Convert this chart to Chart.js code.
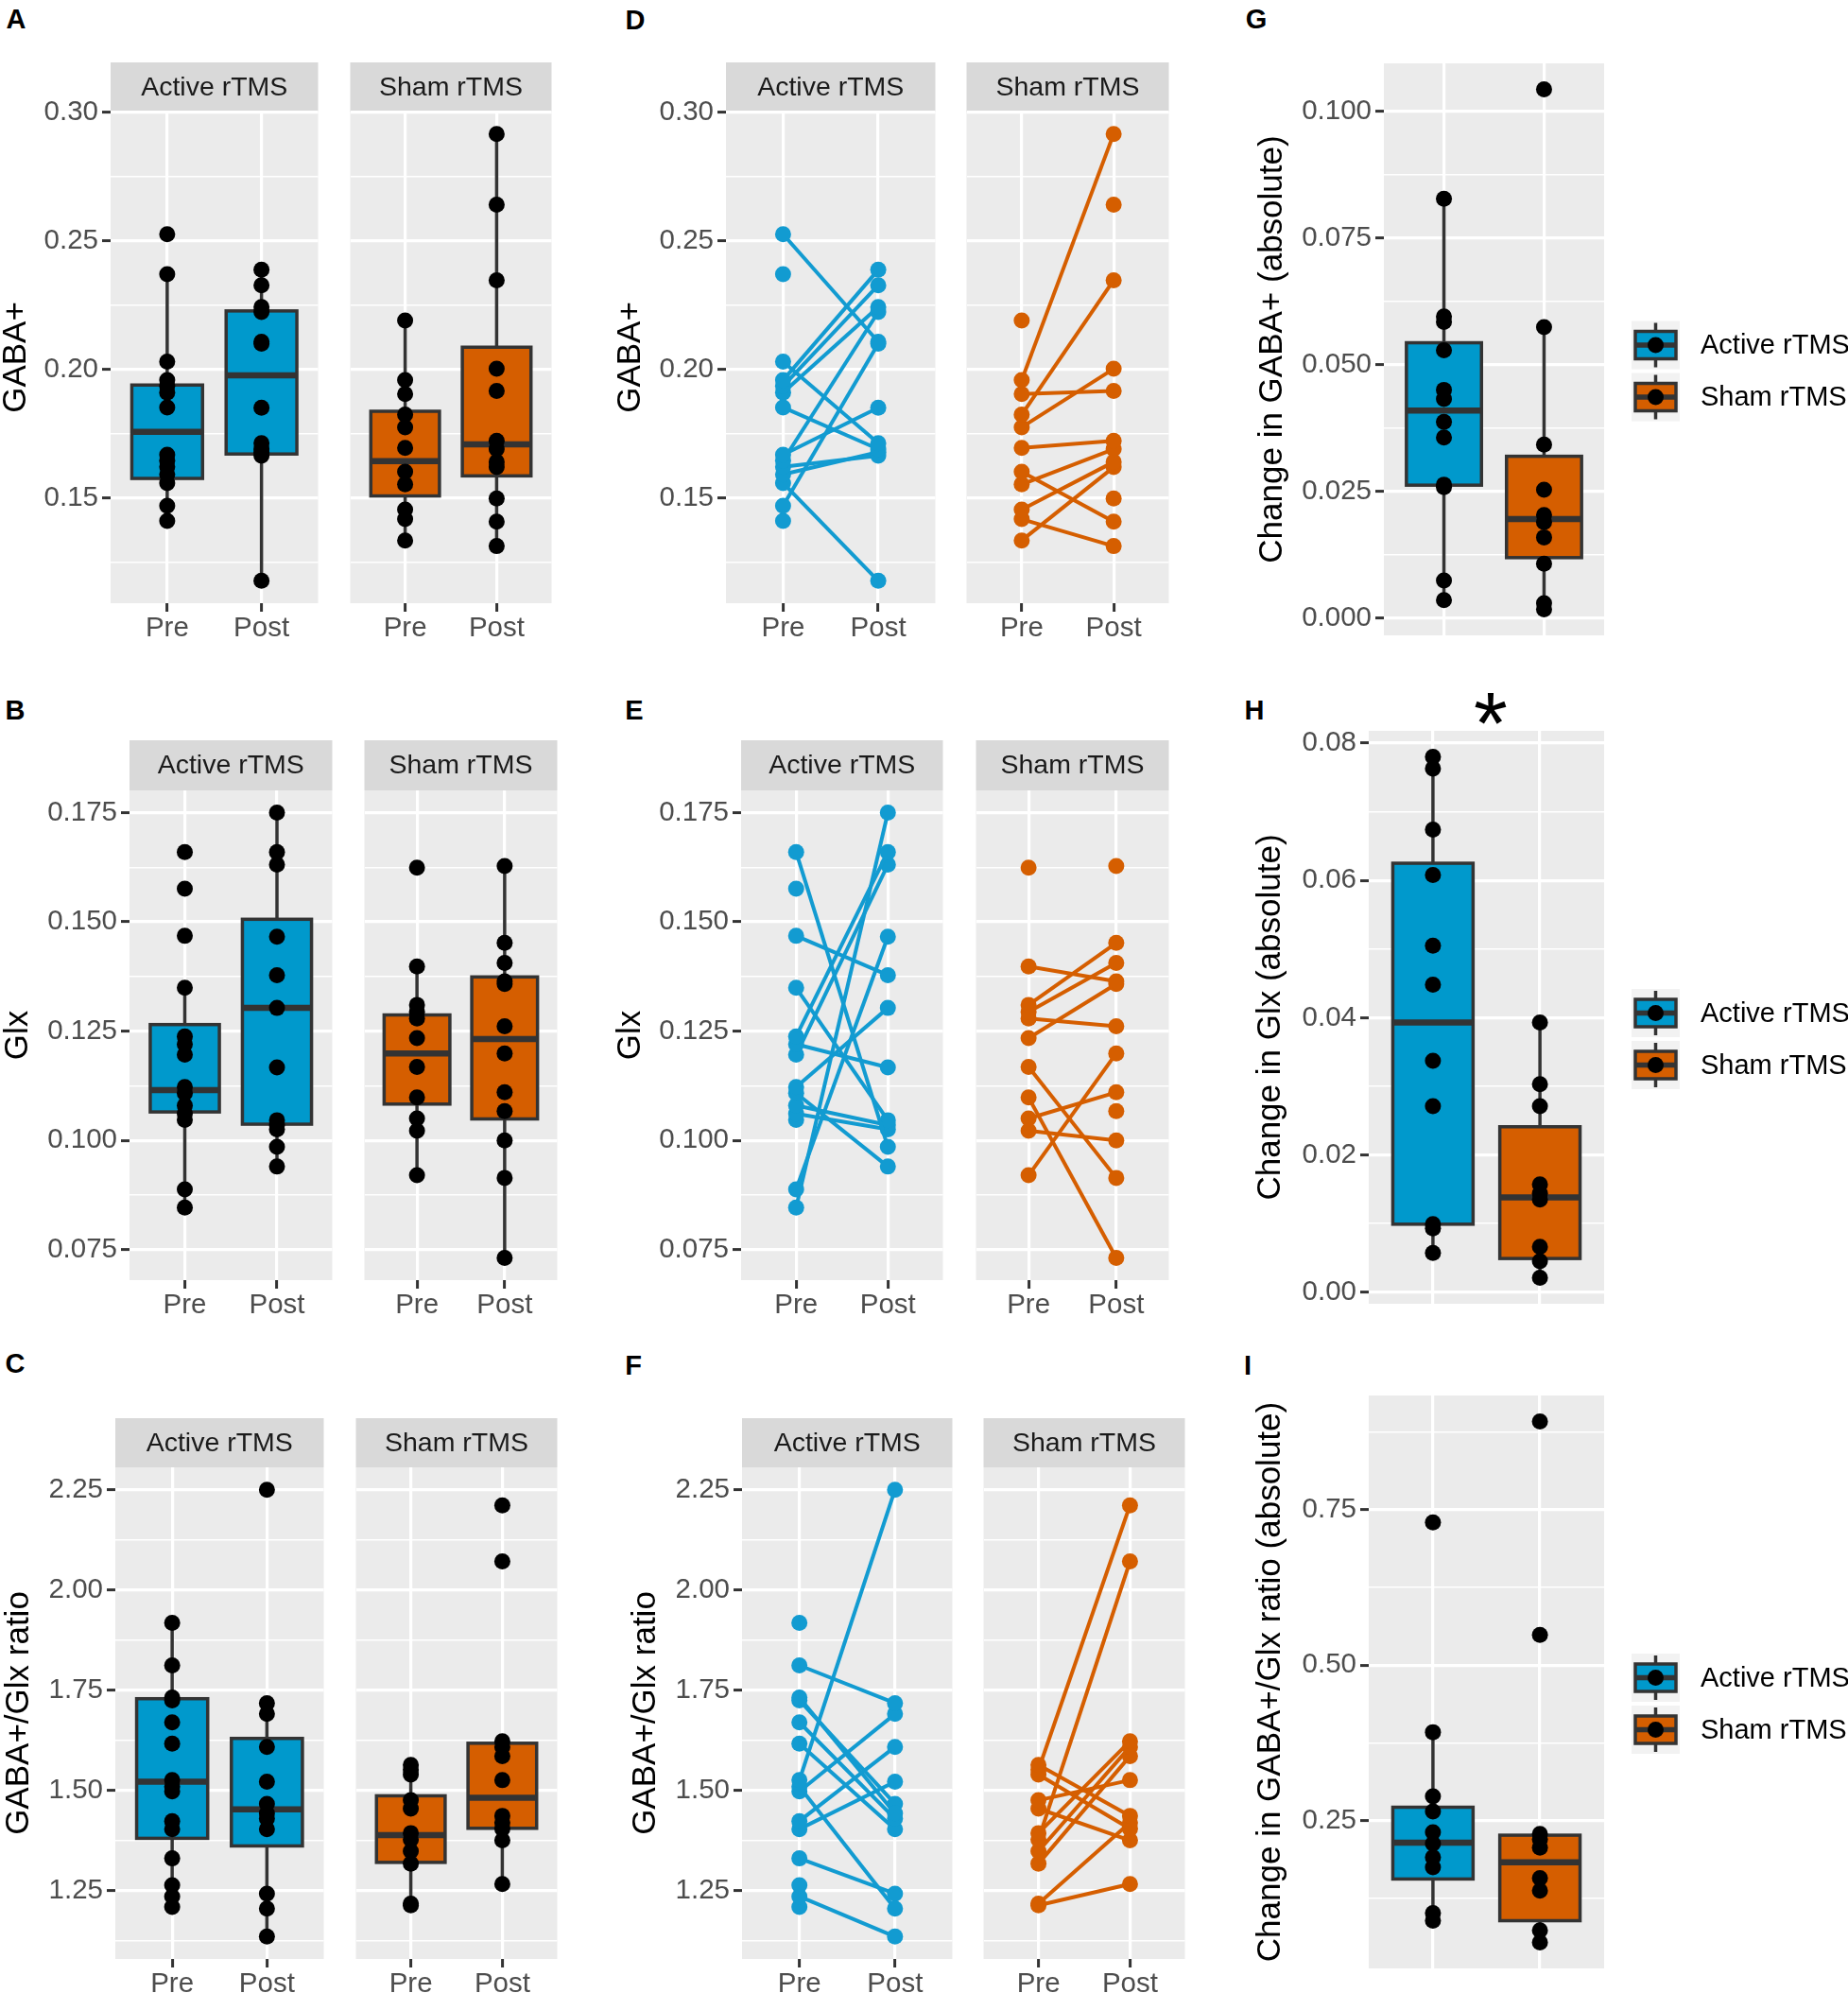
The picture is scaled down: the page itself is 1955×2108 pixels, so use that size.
<!DOCTYPE html>
<html>
<head>
<meta charset="utf-8">
<script src="https://cdn.jsdelivr.net/npm/chart.js@4.4.1/dist/chart.umd.min.js"></script>
<style>
  html, body { margin: 0; padding: 0; background: #fff; width: 1955px; height: 2108px; overflow: hidden; }
  .plot { position: absolute; }
  .tag { position: absolute; font: bold 29px "Liberation Sans", Arial, sans-serif; color: #000; line-height: 1; transform: translate(-50%, -50%); }
  .star { position: absolute; font: 92px "Liberation Sans", Arial, sans-serif; color: #000; line-height: 1; transform: translate(-50%, -50%); }
</style>
</head>
<body>
<div class="tag" style="left:17px;top:20px">A</div>
<div class="tag" style="left:672px;top:21px">D</div>
<div class="tag" style="left:1329px;top:20px">G</div>
<div class="tag" style="left:16px;top:751px">B</div>
<div class="tag" style="left:671px;top:751px">E</div>
<div class="tag" style="left:1327px;top:751px">H</div>
<div class="tag" style="left:16px;top:1442px">C</div>
<div class="tag" style="left:670px;top:1444px">F</div>
<div class="tag" style="left:1320px;top:1444px">I</div>
<div class="star" style="left:1577px;top:765px">*</div>

<script>
const conditions = ['Pre', 'Post'];
const groups = ['Active rTMS', 'Sham rTMS'];

// GABA+ (A, D) - one entry per participant, null = missing
const gabaActivePre  = [0.2525, 0.2370, 0.2030, 0.1958, 0.1935, 0.1910, 0.1852, 0.1668, 0.1645, 0.1621, 0.1592, 0.1558, 0.1470, 0.1411];
const gabaActivePost = [0.2107, null,   0.1713, 0.2387, 0.2327, 0.2242, 0.1690, 0.1851, 0.2223, 0.1664, 0.1678, 0.1178, 0.2100, null];
const gabaShamPre    = [0.2190, 0.1958, 0.1904, 0.1824, 0.1775, 0.1695, 0.1602, 0.1553, 0.1455, 0.1418, 0.1335, null,   null];
const gabaShamPost   = [null,   0.2915, 0.1916, 0.2346, 0.2002, 0.1722, 0.1408, 0.1690, 0.1640, 0.1313, 0.1620, 0.2640, 0.1498];
// box stats: [low whisker, Q1, median, Q3, high whisker]
const gabaActivePreBox  = [0.1410, 0.1576, 0.1757, 0.1939, 0.2369];
const gabaActivePostBox = [0.1178, 0.1671, 0.1977, 0.2227, 0.2387];
const gabaShamPreBox    = [0.1332, 0.1508, 0.1643, 0.1837, 0.2186];
const gabaShamPostBox   = [0.1310, 0.1586, 0.1708, 0.2086, 0.2914];
const gabaTicks = ['0.15', '0.20', '0.25', '0.30'];

// Glx (B, E)
const glxActivePre  = [0.1660, 0.1576, 0.1468, 0.1349, 0.1238, 0.1220, 0.1196, 0.1122, 0.1108, 0.1080, 0.1061, 0.1047, 0.0888, 0.0846];
const glxActivePost = [0.0985, null,   0.1378, 0.1046, 0.1660, 0.1167, 0.1631, 0.1303, 0.0940, 0.1035, 0.1025, null,   0.1466, 0.1750];
const glxShamPre    = [0.1624, 0.1398, 0.1310, 0.1294, 0.1279, 0.1234, 0.1168, 0.1098, 0.1050, 0.1022, 0.0920, null,   null];
const glxShamPost   = [null,   0.1364, 0.1452, 0.1406, 0.1261, 0.1358, 0.0914, 0.0731, 0.1110, 0.1000, 0.1199, 0.1628, 0.1067];
const glxActivePreBox  = [0.0846, 0.1065, 0.1115, 0.1265, 0.1348];
const glxActivePostBox = [0.0938, 0.1037, 0.1303, 0.1506, 0.1750];
const glxShamPreBox    = [0.0919, 0.1083, 0.1199, 0.1287, 0.1400];
const glxShamPostBox   = [0.0731, 0.1049, 0.1232, 0.1374, 0.1628];
const glxTicks = ['0.075', '0.100', '0.125', '0.150', '0.175'];

// GABA+/Glx ratio (C, F)
const ratioActivePre  = [1.918, 1.812, 1.732, 1.725, 1.670, 1.617, 1.526, 1.510, 1.498, 1.424, 1.404, 1.331, 1.264, 1.236, 1.210];
const ratioActivePost = [null,  1.718, 1.443, 1.467, 1.430, 1.404, 2.250, 1.206, 1.691, 1.609, 1.522, 1.243, null,  1.136, null];
const ratioShamPre    = [1.564, 1.552, 1.540, 1.476, 1.455, 1.394, 1.378, 1.349, 1.318, 1.214, 1.218];
const ratioShamPost   = [1.437, 2.211, 1.405, 1.526, 1.376, 1.623, 2.071, 1.609, 1.586, 1.267, 1.420];
const ratioActivePreBox  = [1.209, 1.381, 1.522, 1.729, 1.918];
const ratioActivePostBox = [1.136, 1.362, 1.453, 1.630, 1.720];
const ratioShamPreBox    = [1.214, 1.321, 1.389, 1.487, 1.564];
const ratioShamPostBox   = [1.267, 1.406, 1.482, 1.618, 1.623];
const ratioTicks = ['1.25', '1.50', '1.75', '2.00', '2.25'];

// absolute change (G, H, I)
const gabaChangeActive = [0.0827, 0.0595, 0.0584, 0.0528, 0.0450, 0.0432, 0.0387, 0.0356, 0.0263, 0.0258, 0.0074, 0.0035];
const gabaChangeSham   = [0.1043, 0.0574, 0.0342, 0.0253, 0.0203, 0.0189, 0.0159, 0.0107, 0.0029, 0.0017];
const gabaChangeActiveBox = [0.0035, 0.0262, 0.0409, 0.0543, 0.0827];
const gabaChangeShamBox   = [0.0017, 0.0119, 0.0195, 0.0319, 0.0574];
const gabaChangeTicks = ['0.000', '0.025', '0.050', '0.075', '0.100'];

const glxChangeActive = [0.0780, 0.0763, 0.0674, 0.0608, 0.0505, 0.0448, 0.0337, 0.0271, 0.0099, 0.0093, 0.0057];
const glxChangeSham   = [0.0393, 0.0303, 0.0271, 0.0157, 0.0144, 0.0135, 0.0066, 0.0045, 0.0021];
const glxChangeActiveBox = [0.0057, 0.0099, 0.0393, 0.0625, 0.0780];
const glxChangeShamBox   = [0.0021, 0.0049, 0.0138, 0.0241, 0.0393];
const glxChangeTicks = ['0.00', '0.02', '0.04', '0.06', '0.08'];

const ratioChangeActive = [0.7299, 0.3923, 0.2889, 0.2648, 0.2312, 0.2131, 0.1909, 0.1748, 0.1010, 0.0889];
const ratioChangeSham   = [0.8923, 0.5487, 0.2285, 0.2198, 0.2064, 0.1574, 0.1372, 0.0735, 0.0540];
const ratioChangeActiveBox = [0.0889, 0.1560, 0.2144, 0.2715, 0.3923];
const ratioChangeShamBox   = [0.0540, 0.0889, 0.1829, 0.2265, 0.2285];
const ratioChangeTicks = ['0.25', '0.50', '0.75'];

const FONT = '"Liberation Sans", Arial, Helvetica, sans-serif';
const BLUE = '#0099CC';
const BLUE_LINE = '#129BD1';
const ORANGE = '#D55E00';
const DOT_R = 8.5;
Chart.defaults.font.family = FONT;

// ggplot-like limits: data range plus 5% each side
function expandLim(...arrs) {
  const v = arrs.flat().filter(x => x != null);
  const lo = Math.min(...v), hi = Math.max(...v), r = hi - lo;
  return [lo - 0.05 * r, hi + 0.05 * r];
}

// grey panel + facet strip
const panelBg = {
  id: 'panelBg',
  beforeDraw(chart, args, o) {
    const { ctx, chartArea: a } = chart;
    ctx.save();
    ctx.fillStyle = '#EBEBEB';
    ctx.fillRect(a.left, a.top, a.right - a.left, a.bottom - a.top);
    if (o.strip) {
      ctx.fillStyle = '#D9D9D9';
      ctx.fillRect(a.left, a.top - o.stripH, a.right - a.left, o.stripH);
      ctx.fillStyle = '#1A1A1A';
      ctx.font = '28.5px ' + FONT;
      ctx.textAlign = 'center';
      ctx.textBaseline = 'middle';
      ctx.fillText(o.strip, (a.left + a.right) / 2, a.top - o.stripH / 2 + 1);
    }
    ctx.restore();
  }
};

// boxes and whiskers, drawn under the points
const boxPlot = {
  id: 'boxPlot',
  beforeDatasetsDraw(chart, args, o) {
    if (!o.boxes) return;
    const { ctx, scales: { x, y } } = chart;
    o.boxes.forEach(b => {
      const cx = x.getPixelForValue(b.pos);
      const half = x.getPixelForValue(b.pos + 0.375) - cx;
      const [lo, q1, med, q3, hi] = b.stats.map(v => y.getPixelForValue(v));
      ctx.save();
      ctx.strokeStyle = '#333333';
      ctx.lineWidth = 3.5;
      ctx.beginPath();
      ctx.moveTo(cx, q3); ctx.lineTo(cx, hi);
      ctx.moveTo(cx, q1); ctx.lineTo(cx, lo);
      ctx.stroke();
      ctx.fillStyle = b.color;
      ctx.fillRect(cx - half, q3, 2 * half, q1 - q3);
      ctx.strokeRect(cx - half, q3, 2 * half, q1 - q3);
      ctx.lineWidth = 6.5;
      ctx.beginPath();
      ctx.moveTo(cx - half, med); ctx.lineTo(cx + half, med);
      ctx.stroke();
      ctx.restore();
    });
  }
};

// legend with boxplot keys
const keyLegend = {
  id: 'keyLegend',
  afterDraw(chart, args, o) {
    if (!o.labels) return;
    const { ctx, chartArea: a } = chart;
    const kw = 51, kh = 51, gap = 4;
    const total = o.labels.length * kh + (o.labels.length - 1) * gap;
    const left = a.right + 29;
    const top = (a.top + a.bottom) / 2 + 23 - total / 2;
    o.labels.forEach((lab, i) => {
      const y0 = top + i * (kh + gap);
      const cx = left + kw / 2, cy = y0 + kh / 2;
      ctx.save();
      ctx.fillStyle = '#F2F2F2';
      ctx.fillRect(left, y0, kw, kh);
      ctx.strokeStyle = '#333333';
      ctx.lineWidth = 3.5;
      ctx.beginPath(); ctx.moveTo(cx, y0 + 2); ctx.lineTo(cx, y0 + kh - 2); ctx.stroke();
      ctx.fillStyle = o.colors[i];
      ctx.fillRect(left + 4, cy - 14.5, kw - 8, 29);
      ctx.strokeRect(left + 4, cy - 14.5, kw - 8, 29);
      ctx.lineWidth = 5.5;
      ctx.beginPath(); ctx.moveTo(left + 4, cy); ctx.lineTo(left + kw - 4, cy); ctx.stroke();
      ctx.fillStyle = '#000';
      ctx.beginPath(); ctx.arc(cx, cy, DOT_R, 0, Math.PI * 2); ctx.fill();
      ctx.font = '29px ' + FONT;
      ctx.textAlign = 'left';
      ctx.textBaseline = 'middle';
      ctx.fillText(lab, left + kw + 22, cy + 1);
      ctx.restore();
    });
  }
};

function yScale(tickLabels, lim, axisW, title) {
  const majors = tickLabels.map(Number);
  const step = majors[1] - majors[0];
  const cand = majors.concat([majors[0] - step / 2], majors.map(m => m + step / 2));
  const all = cand.filter(v => v >= lim[0] - 1e-9 && v <= lim[1] + 1e-9).sort((p, q) => p - q);
  const majorIdx = v => majors.findIndex(m => Math.abs(m - v) < 1e-9);
  const show = axisW > 0;
  return {
    type: 'linear',
    min: lim[0],
    max: lim[1],
    afterBuildTicks: s => { s.ticks = all.map(v => ({ value: v })); },
    afterFit: s => { s.width = axisW; },
    border: { display: false },
    grid: {
      color: '#FFFFFF',
      lineWidth: c => (c.tick && majorIdx(c.tick.value) >= 0) ? 3.2 : 1.6,
      drawTicks: show,
      tickLength: 9,
      tickWidth: 3,
      tickColor: c => (c.tick && majorIdx(c.tick.value) >= 0) ? '#333333' : 'rgba(0,0,0,0)'
    },
    ticks: {
      display: show,
      padding: 4,
      color: '#4D4D4D',
      font: { size: 29.5 },
      autoSkip: false,
      callback: v => { const i = majorIdx(v); return i >= 0 ? tickLabels[i] : ''; }
    },
    title: title && show
      ? { display: true, text: title, color: '#000', font: { size: 35, lineHeight: 1 }, padding: 0 }
      : { display: false }
  };
}

function xScale(labels) {
  const show = !!labels;
  return {
    type: 'linear',
    min: 0.4,
    max: 2.6,
    afterBuildTicks: s => { s.ticks = [{ value: 1 }, { value: 2 }]; },
    afterFit: s => { s.height = show ? 50 : 0; },
    border: { display: false },
    grid: { color: '#FFFFFF', lineWidth: 3.2, drawTicks: show, tickLength: 9, tickWidth: 3, tickColor: '#333333' },
    ticks: {
      display: show,
      padding: 0,
      color: '#4D4D4D',
      font: { size: 29.5 },
      autoSkip: false,
      maxRotation: 0,
      callback: v => show ? labels[Math.round(v) - 1] : ''
    }
  };
}

function dots(a, b) {
  const pts = [];
  a.forEach(v => { if (v != null) pts.push({ x: 1, y: v }); });
  b.forEach(v => { if (v != null) pts.push({ x: 2, y: v }); });
  return [{ data: pts, pointRadius: DOT_R, pointBackgroundColor: '#000', pointBorderWidth: 0 }];
}

function pairs(pre, post, color) {
  return pre.map((v, i) => ({
    showLine: true,
    data: [v != null ? { x: 1, y: v } : null, post[i] != null ? { x: 2, y: post[i] } : null].filter(Boolean),
    borderColor: color,
    borderWidth: 4,
    pointRadius: DOT_R,
    pointBackgroundColor: color,
    pointBorderWidth: 0
  }));
}

function facet(c) {
  const padTop = c.padTop, padBottom = c.padBottom || 0, padRight = c.padRight || 0;
  const h = padTop + c.plotH + (c.xLabels ? 50 : 0) + padBottom;
  const div = document.createElement('div');
  div.className = 'plot';
  div.style.left = c.left + 'px';
  div.style.top = c.top + 'px';
  const cv = document.createElement('canvas');
  cv.width = c.width;
  cv.height = h;
  cv.style.width = c.width + 'px';
  cv.style.height = h + 'px';
  div.appendChild(cv);
  document.body.appendChild(div);
  return new Chart(cv, {
    type: 'scatter',
    data: { datasets: c.datasets },
    options: {
      responsive: false,
      animation: false,
      events: [],
      layout: { padding: { top: padTop, right: padRight, bottom: padBottom, left: 0 } },
      scales: { x: xScale(c.xLabels), y: yScale(c.ticks, c.lim, c.yAxisW, c.yTitle) },
      plugins: {
        legend: { display: false },
        tooltip: { enabled: false },
        panelBg: { strip: c.strip, stripH: padTop },
        boxPlot: { boxes: c.boxes },
        keyLegend: { labels: c.legend, colors: [BLUE, ORANGE] }
      }
    },
    plugins: [panelBg, boxPlot, keyLegend]
  });
}

const gabaLim = expandLim(gabaActivePre, gabaActivePost, gabaShamPre, gabaShamPost);
const glxLim = expandLim(glxActivePre, glxActivePost, glxShamPre, glxShamPost);
const ratioLim = expandLim(ratioActivePre, ratioActivePost, ratioShamPre, ratioShamPost);

// rows of faceted panels: [row top, strip height, plot height]
const rows = { r1: [66, 52, 520], r2: [783, 53, 518], r3: [1500, 52, 520] };

function facetPair(row, f1, f2, yAxisW, title, ticks, lim, left, right) {
  const [top, stripH, plotH] = rows[row];
  facet({ left: f1[0], top, width: f1[1] - f1[0], yAxisW, padTop: stripH, plotH, xLabels: conditions,
    strip: groups[0], yTitle: title, ticks, lim, datasets: left.datasets, boxes: left.boxes });
  facet({ left: f2[0], top, width: f2[1] - f2[0], yAxisW: 0, padTop: stripH, plotH, xLabels: conditions,
    strip: groups[1], ticks, lim, datasets: right.datasets, boxes: right.boxes });
}

// A
facetPair('r1', [0, 345], [362, 592], 117, 'GABA+', gabaTicks, gabaLim,
  { datasets: dots(gabaActivePre, gabaActivePost), boxes: [{ pos: 1, stats: gabaActivePreBox, color: BLUE }, { pos: 2, stats: gabaActivePostBox, color: BLUE }] },
  { datasets: dots(gabaShamPre, gabaShamPost), boxes: [{ pos: 1, stats: gabaShamPreBox, color: ORANGE }, { pos: 2, stats: gabaShamPostBox, color: ORANGE }] });
// B
facetPair('r2', [2, 360], [377, 598], 135, 'Glx', glxTicks, glxLim,
  { datasets: dots(glxActivePre, glxActivePost), boxes: [{ pos: 1, stats: glxActivePreBox, color: BLUE }, { pos: 2, stats: glxActivePostBox, color: BLUE }] },
  { datasets: dots(glxShamPre, glxShamPost), boxes: [{ pos: 1, stats: glxShamPreBox, color: ORANGE }, { pos: 2, stats: glxShamPostBox, color: ORANGE }] });
// C
facetPair('r3', [3, 351], [368, 598], 119, 'GABA+/Glx ratio', ratioTicks, ratioLim,
  { datasets: dots(ratioActivePre, ratioActivePost), boxes: [{ pos: 1, stats: ratioActivePreBox, color: BLUE }, { pos: 2, stats: ratioActivePostBox, color: BLUE }] },
  { datasets: dots(ratioShamPre, ratioShamPost), boxes: [{ pos: 1, stats: ratioShamPreBox, color: ORANGE }, { pos: 2, stats: ratioShamPostBox, color: ORANGE }] });
// D
facetPair('r1', [650, 998], [1014, 1245], 118, 'GABA+', gabaTicks, gabaLim,
  { datasets: pairs(gabaActivePre, gabaActivePost, BLUE_LINE) },
  { datasets: pairs(gabaShamPre, gabaShamPost, ORANGE) });
// E
facetPair('r2', [650, 1006], [1024, 1245], 134, 'Glx', glxTicks, glxLim,
  { datasets: pairs(glxActivePre, glxActivePost, BLUE_LINE) },
  { datasets: pairs(glxShamPre, glxShamPost, ORANGE) });
// F
facetPair('r3', [666, 1016], [1032, 1262], 119, 'GABA+/Glx ratio', ratioTicks, ratioLim,
  { datasets: pairs(ratioActivePre, ratioActivePost, BLUE_LINE) },
  { datasets: pairs(ratioShamPre, ratioShamPost, ORANGE) });

// G, H, I
function changePanel(left, top, yAxisW, plotH, title, ticks, act, sham, actBox, shamBox) {
  facet({ left, top, width: 1955 - left, yAxisW, padTop: 25, padBottom: 25, padRight: 258, plotH,
    yTitle: title, ticks, lim: expandLim(act, sham), legend: groups,
    datasets: dots(act, sham),
    boxes: [{ pos: 1, stats: actBox, color: BLUE }, { pos: 2, stats: shamBox, color: ORANGE }] });
}
changePanel(1329, 42, 135, 605, 'Change in GABA+ (absolute)', gabaChangeTicks, gabaChangeActive, gabaChangeSham, gabaChangeActiveBox, gabaChangeShamBox);
changePanel(1327, 748, 121, 606, 'Change in Glx (absolute)', glxChangeTicks, glxChangeActive, glxChangeSham, glxChangeActiveBox, glxChangeShamBox);
changePanel(1327, 1451, 121, 606, 'Change in GABA+/Glx ratio (absolute)', ratioChangeTicks, ratioChangeActive, ratioChangeSham, ratioChangeActiveBox, ratioChangeShamBox);
</script>
</body>
</html>
